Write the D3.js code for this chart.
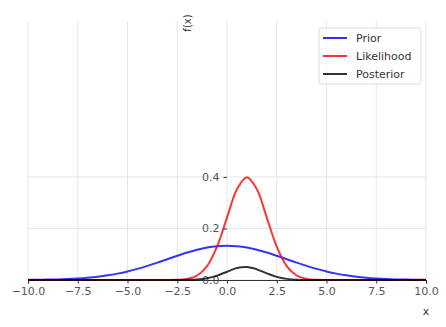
<!DOCTYPE html>
<html>
<head>
<meta charset="utf-8">
<script src="https://cdn.jsdelivr.net/npm/d3@7"></script>
<style>
  body { margin: 0; background: #fff; }
  text { font-family: "DejaVu Sans", sans-serif; }
</style>
</head>
<body>
<div id="chart"></div>
<script>
// x positions where curve values were read
var xs = [-10, -9.5, -9, -8.5, -8, -7.5, -7, -6.5, -6, -5.5, -5, -4.5, -4, -3.5, -3, -2.5, -2, -1.5, -1, -0.5,
          0, 0.5, 1, 1.5, 2, 2.5, 3, 3.5, 4, 4.5, 5, 5.5, 6, 6.5, 7, 7.5, 8, 8.5, 9, 9.5, 10];

var prior = [0.0005, 0.0009, 0.0015, 0.0024, 0.0038, 0.0058, 0.0087, 0.0127, 0.0180, 0.0248, 0.0332, 0.0432, 0.0547, 0.0673, 0.0807, 0.0940, 0.1065, 0.1174, 0.1258, 0.1311,
             0.1330, 0.1311, 0.1258, 0.1174, 0.1065, 0.0940, 0.0807, 0.0673, 0.0547, 0.0432, 0.0332, 0.0248, 0.0180, 0.0127, 0.0087, 0.0058, 0.0038, 0.0024, 0.0015, 0.0009, 0.0005];

var likelihood = [0, 0, 0, 0, 0, 0, 0, 0, 0, 0, 0, 0, 0, 0, 0.0001, 0.0009, 0.0044, 0.0175, 0.0540, 0.1295,
                  0.2420, 0.3521, 0.3989, 0.3521, 0.2420, 0.1295, 0.0540, 0.0175, 0.0044, 0.0009, 0.0001, 0, 0, 0, 0, 0, 0, 0, 0, 0, 0];

var posterior = [0, 0, 0, 0, 0, 0, 0, 0, 0, 0, 0, 0, 0, 0, 0, 0.0001, 0.0005, 0.0021, 0.0068, 0.0170,
                 0.0322, 0.0462, 0.0502, 0.0413, 0.0258, 0.0122, 0.0044, 0.0012, 0.0002, 0, 0, 0, 0, 0, 0, 0, 0, 0, 0, 0, 0];

var xTicks = [-10, -7.5, -5, -2.5, 0, 2.5, 5, 7.5, 10];
var yTicks = [0, 0.2, 0.4];

var series = [
  {name: "Prior", values: prior, color: "#0000ff"},
  {name: "Likelihood", values: likelihood, color: "#ff0000"},
  {name: "Posterior", values: posterior, color: "#000000"}
];

var margin = {top: 21, right: 20, bottom: 47, left: 28};
var width = 446 - margin.left - margin.right;
var height = 327 - margin.top - margin.bottom;

var x = d3.scaleLinear().domain([-10, 10]).range([0, width]);
var y = d3.scaleLinear().domain([0, 1.005]).range([height, 0]);

var svg = d3.select("#chart").append("svg")
    .attr("width", 446)
    .attr("height", 327)
  .append("g")
    .attr("transform", "translate(" + margin.left + "," + margin.top + ")");

// grid
svg.selectAll("line.vgrid").data(xTicks).enter()
  .append("line")
    .attr("x1", function(d) { return x(d); })
    .attr("x2", function(d) { return x(d); })
    .attr("y1", 0)
    .attr("y2", height)
    .attr("stroke", "#e6e6e6")
    .attr("stroke-width", 1);

svg.selectAll("line.hgrid").data(yTicks).enter()
  .append("line")
    .attr("x1", 0)
    .attr("x2", width)
    .attr("y1", function(d) { return y(d); })
    .attr("y2", function(d) { return y(d); })
    .attr("stroke", "#e6e6e6")
    .attr("stroke-width", 1);

// x axis sits on y = 0
var xAxis = svg.append("g")
    .attr("transform", "translate(0," + y(0) + ")")
    .call(d3.axisBottom(x).tickValues(xTicks).tickSize(3.5).tickPadding(4)
      .tickFormat(function(d) { return d3.format(".1f")(d).replace("-", "\u2212"); }));
xAxis.select(".domain").attr("stroke", "#333").attr("stroke-width", 1);
xAxis.selectAll(".tick line").attr("stroke", "#333");
xAxis.selectAll("text").attr("fill", "#555").style("font-size", "11px");

// y axis sits on x = 0, spine hidden
var yAxis = svg.append("g")
    .attr("transform", "translate(" + x(0) + ",0)")
    .call(d3.axisLeft(y).tickValues(yTicks).tickSize(3.5).tickPadding(4).tickFormat(d3.format(".1f")));
yAxis.select(".domain").remove();
yAxis.selectAll(".tick line").attr("stroke", "#333");
yAxis.selectAll("text").attr("fill", "#555").style("font-size", "11px");

// curves
var line = d3.line()
    .x(function(d, i) { return x(xs[i]); })
    .y(function(d) { return y(d); })
    .curve(d3.curveCatmullRom);

svg.selectAll("path.curve").data(series).enter()
  .append("path")
    .attr("class", "curve")
    .attr("d", function(d) { return line(d.values); })
    .attr("fill", "none")
    .attr("stroke", function(d) { return d.color; })
    .attr("stroke-opacity", 0.8)
    .attr("stroke-width", 2);

// axis labels
svg.append("text")
    .attr("transform", "translate(" + (x(0) - 36) + ",2) rotate(-90)")
    .attr("text-anchor", "middle")
    .attr("fill", "#333")
    .style("font-size", "10px")
    .text("f(x)");

svg.append("text")
    .attr("x", width)
    .attr("y", height + 35)
    .attr("text-anchor", "middle")
    .attr("fill", "#333")
    .style("font-size", "11px")
    .text("x");

// legend
var legend = svg.append("g")
    .attr("transform", "translate(" + (319 - margin.left) + "," + (28 - margin.top) + ")");

legend.append("rect")
    .attr("width", 102)
    .attr("height", 56)
    .attr("rx", 3)
    .attr("fill", "#fff")
    .attr("fill-opacity", 0.8)
    .attr("stroke", "#dddddd");

var rows = legend.selectAll("g.row").data(series).enter()
  .append("g")
    .attr("transform", function(d, i) { return "translate(0," + (10 + i * 18) + ")"; });

rows.append("line")
    .attr("x1", 4)
    .attr("x2", 28)
    .attr("stroke", function(d) { return d.color; })
    .attr("stroke-opacity", 0.8)
    .attr("stroke-width", 2);

rows.append("text")
    .attr("x", 37)
    .attr("dy", "0.35em")
    .attr("fill", "#333")
    .style("font-size", "11px")
    .text(function(d) { return d.name; });
</script>
</body>
</html>
